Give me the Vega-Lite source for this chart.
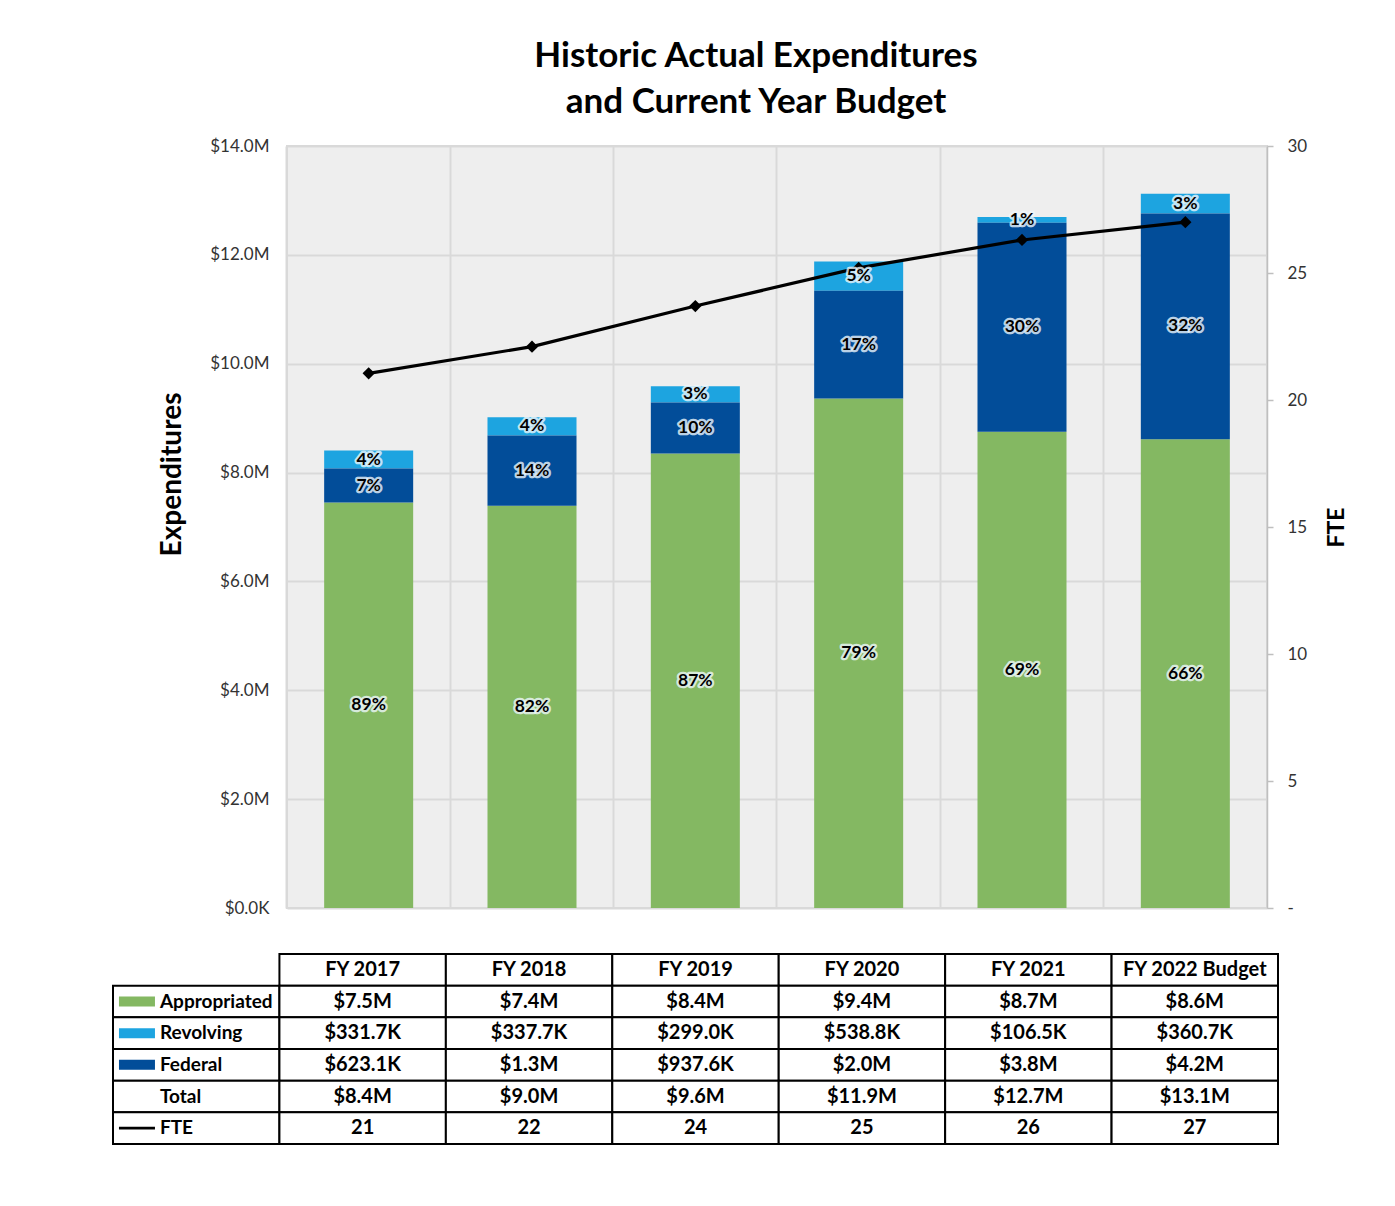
{
  "$schema": "https://vega.github.io/schema/vega-lite/v6.json",
  "width": 980,
  "height": 762,
  "autosize": {"type": "none"},
  "padding": {"left": 287, "top": 146, "right": 128, "bottom": 298},
  "background": "white",
  "config": {
    "font": "Lato",
    "view": {"fill": "#eeeeee", "stroke": "#d9d9d9", "strokeWidth": 2},
    "axis": {"labelFont": "Lato", "titleFont": "Lato"}
  },
  "title": {
    "text": ["Historic Actual Expenditures", "and Current Year Budget"],
    "font": "Lato",
    "fontSize": 35,
    "fontWeight": "bold",
    "color": "black",
    "lineHeight": 46,
    "anchor": "middle",
    "dx": -21,
    "offset": 17
  },
  "datasets": {
    "spend": [
      {"year": "FY 2017", "series": "Appropriated", "amount": 7450000, "pct": "89%"},
      {"year": "FY 2017", "series": "Revolving", "amount": 331700, "pct": "4%"},
      {"year": "FY 2017", "series": "Federal", "amount": 623100, "pct": "7%"},
      {"year": "FY 2018", "series": "Appropriated", "amount": 7390000, "pct": "82%"},
      {"year": "FY 2018", "series": "Revolving", "amount": 337700, "pct": "4%"},
      {"year": "FY 2018", "series": "Federal", "amount": 1290000, "pct": "14%"},
      {"year": "FY 2019", "series": "Appropriated", "amount": 8350000, "pct": "87%"},
      {"year": "FY 2019", "series": "Revolving", "amount": 299000, "pct": "3%"},
      {"year": "FY 2019", "series": "Federal", "amount": 937600, "pct": "10%"},
      {"year": "FY 2020", "series": "Appropriated", "amount": 9360000, "pct": "79%"},
      {"year": "FY 2020", "series": "Revolving", "amount": 538800, "pct": "5%"},
      {"year": "FY 2020", "series": "Federal", "amount": 1980000, "pct": "17%"},
      {"year": "FY 2021", "series": "Appropriated", "amount": 8750000, "pct": "69%"},
      {"year": "FY 2021", "series": "Revolving", "amount": 106500, "pct": "1%"},
      {"year": "FY 2021", "series": "Federal", "amount": 3840000, "pct": "30%"},
      {"year": "FY 2022 Budget", "series": "Appropriated", "amount": 8610000, "pct": "66%"},
      {"year": "FY 2022 Budget", "series": "Revolving", "amount": 360700, "pct": "3%"},
      {"year": "FY 2022 Budget", "series": "Federal", "amount": 4150000, "pct": "32%"}
    ],
    "fte": [
      {"year": "FY 2017", "fte": 21.05},
      {"year": "FY 2018", "fte": 22.1},
      {"year": "FY 2019", "fte": 23.7},
      {"year": "FY 2020", "fte": 25.2},
      {"year": "FY 2021", "fte": 26.3},
      {"year": "FY 2022 Budget", "fte": 27.0}
    ],
    "table": [
      {"col": "FY 2017", "row": "hdr", "text": "FY 2017"},
      {"col": "FY 2018", "row": "hdr", "text": "FY 2018"},
      {"col": "FY 2019", "row": "hdr", "text": "FY 2019"},
      {"col": "FY 2020", "row": "hdr", "text": "FY 2020"},
      {"col": "FY 2021", "row": "hdr", "text": "FY 2021"},
      {"col": "FY 2022 Budget", "row": "hdr", "text": "FY 2022 Budget"},
      {"col": "label", "row": "Appropriated", "text": "Appropriated"},
      {"col": "FY 2017", "row": "Appropriated", "text": "$7.5M"},
      {"col": "FY 2018", "row": "Appropriated", "text": "$7.4M"},
      {"col": "FY 2019", "row": "Appropriated", "text": "$8.4M"},
      {"col": "FY 2020", "row": "Appropriated", "text": "$9.4M"},
      {"col": "FY 2021", "row": "Appropriated", "text": "$8.7M"},
      {"col": "FY 2022 Budget", "row": "Appropriated", "text": "$8.6M"},
      {"col": "label", "row": "Revolving", "text": "Revolving"},
      {"col": "FY 2017", "row": "Revolving", "text": "$331.7K"},
      {"col": "FY 2018", "row": "Revolving", "text": "$337.7K"},
      {"col": "FY 2019", "row": "Revolving", "text": "$299.0K"},
      {"col": "FY 2020", "row": "Revolving", "text": "$538.8K"},
      {"col": "FY 2021", "row": "Revolving", "text": "$106.5K"},
      {"col": "FY 2022 Budget", "row": "Revolving", "text": "$360.7K"},
      {"col": "label", "row": "Federal", "text": "Federal"},
      {"col": "FY 2017", "row": "Federal", "text": "$623.1K"},
      {"col": "FY 2018", "row": "Federal", "text": "$1.3M"},
      {"col": "FY 2019", "row": "Federal", "text": "$937.6K"},
      {"col": "FY 2020", "row": "Federal", "text": "$2.0M"},
      {"col": "FY 2021", "row": "Federal", "text": "$3.8M"},
      {"col": "FY 2022 Budget", "row": "Federal", "text": "$4.2M"},
      {"col": "label", "row": "Total", "text": "Total"},
      {"col": "FY 2017", "row": "Total", "text": "$8.4M"},
      {"col": "FY 2018", "row": "Total", "text": "$9.0M"},
      {"col": "FY 2019", "row": "Total", "text": "$9.6M"},
      {"col": "FY 2020", "row": "Total", "text": "$11.9M"},
      {"col": "FY 2021", "row": "Total", "text": "$12.7M"},
      {"col": "FY 2022 Budget", "row": "Total", "text": "$13.1M"},
      {"col": "label", "row": "FTE", "text": "FTE"},
      {"col": "FY 2017", "row": "FTE", "text": "21"},
      {"col": "FY 2018", "row": "FTE", "text": "22"},
      {"col": "FY 2019", "row": "FTE", "text": "24"},
      {"col": "FY 2020", "row": "FTE", "text": "25"},
      {"col": "FY 2021", "row": "FTE", "text": "26"},
      {"col": "FY 2022 Budget", "row": "FTE", "text": "27"}
    ]
  },
  "layer": [
    {
      "data": {"name": "spend"},
      "layer": [
        {
          "mark": {"type": "bar"},
          "encoding": {
            "x": {
              "field": "year", "type": "nominal",
              "scale": {"domain": ["FY 2017", "FY 2018", "FY 2019", "FY 2020", "FY 2021", "FY 2022 Budget"], "paddingInner": 0.455, "paddingOuter": 0.2275},
              "axis": {"grid": true, "bandPosition": -0.4176, "labels": false, "ticks": false, "domain": false, "title": null, "gridColor": "#d9d9d9", "gridWidth": 2}
            },
            "y": {
              "field": "amount", "type": "quantitative", "stack": "zero",
              "scale": {"domain": [0, 14000000], "nice": false, "zero": true},
              "axis": {
                "values": [0, 2000000, 4000000, 6000000, 8000000, 10000000, 12000000, 14000000],
                "labelExpr": "datum.value == 0 ? '$0.0K' : '$' + format(datum.value / 1000000, '.1f') + 'M'",
                "grid": true, "gridColor": "#d9d9d9", "gridWidth": 2,
                "domain": false, "ticks": false,
                "labelPadding": 18, "labelFontSize": 17, "labelColor": "#333333",
                "title": "Expenditures", "titleFontSize": 28, "titleFontWeight": "bold", "titleColor": "black",
                "titleX": -115, "titleY": 328, "titleBaseline": "middle", "titleAngle": -90
              }
            },
            "color": {
              "field": "series", "type": "nominal",
              "scale": {"domain": ["Appropriated", "Revolving", "Federal", "FTE"], "range": ["#84B862", "#1DA4E0", "#024D99", "#000000"]},
              "legend": null
            },
            "order": {"field": "series", "type": "nominal", "sort": "ascending"}
          }
        }
      ]
    },
    {
      "data": {"name": "fte"},
      "layer": [
        {
          "mark": {"type": "line", "color": "black", "strokeWidth": 3.2},
          "encoding": {
            "x": {
              "field": "year", "type": "nominal",
              "scale": {"domain": ["FY 2017", "FY 2018", "FY 2019", "FY 2020", "FY 2021", "FY 2022 Budget"], "paddingInner": 0.455, "paddingOuter": 0.2275},
              "axis": null
            },
            "y": {
              "field": "fte", "type": "quantitative",
              "scale": {"domain": [0, 30], "nice": false, "zero": true},
              "axis": {
                "orient": "right",
                "values": [0, 5, 10, 15, 20, 25, 30],
                "labelExpr": "datum.value == 0 ? '-' : datum.label",
                "grid": false, "domain": true, "domainColor": "#bfbfbf", "domainWidth": 1.5,
                "ticks": true, "tickColor": "#bfbfbf", "tickSize": 6, "tickWidth": 1.5,
                "labelPadding": 14, "labelFontSize": 17, "labelColor": "#333333",
                "title": "FTE", "titleFontSize": 23, "titleFontWeight": "bold", "titleColor": "black",
                "titleAngle": -90, "titleX": 69, "titleBaseline": "middle"
              }
            }
          }
        },
        {
          "mark": {"type": "point", "shape": "diamond", "filled": true, "color": "black", "size": 150, "opacity": 1},
          "encoding": {
            "x": {"field": "year", "type": "nominal"},
            "y": {"field": "fte", "type": "quantitative"}
          }
        }
      ]
    },
    {
      "data": {"name": "spend"},
      "layer": [
        {
          "mark": {"type": "text", "font": "Lato", "fontSize": 17.5, "fontWeight": "bold", "stroke": "#eef7fc", "strokeWidth": 4.5, "strokeJoin": "round", "strokeOpacity": 0.8, "fill": "#eef7fc", "baseline": "middle"},
          "encoding": {
            "x": {
              "field": "year", "type": "nominal",
              "scale": {"domain": ["FY 2017", "FY 2018", "FY 2019", "FY 2020", "FY 2021", "FY 2022 Budget"], "paddingInner": 0.455, "paddingOuter": 0.2275},
              "axis": null
            },
            "y": {
              "field": "amount", "type": "quantitative", "stack": "zero", "bandPosition": 0.5,
              "scale": {"domain": [0, 14000000], "nice": false, "zero": true},
              "axis": null
            },
            "detail": {"field": "series", "type": "nominal"},
            "order": {"field": "series", "type": "nominal", "sort": "ascending"},
            "text": {"field": "pct", "type": "nominal"}
          }
        },
        {
          "mark": {"type": "text", "font": "Lato", "fontSize": 17.5, "fontWeight": "bold", "fill": "black", "baseline": "middle"},
          "encoding": {
            "x": {"field": "year", "type": "nominal"},
            "y": {"field": "amount", "type": "quantitative", "stack": "zero", "bandPosition": 0.5},
            "detail": {"field": "series", "type": "nominal"},
            "order": {"field": "series", "type": "nominal", "sort": "ascending"},
            "text": {"field": "pct", "type": "nominal"}
          }
        }
      ]
    },
    {
      "data": {"name": "table"},
      "layer": [
        {
          "mark": {"type": "rect", "fill": "white", "stroke": "black", "strokeWidth": 2},
          "encoding": {
            "x": {
              "field": "col", "type": "nominal",
              "scale": {"domain": ["label", "FY 2017", "FY 2018", "FY 2019", "FY 2020", "FY 2021", "FY 2022 Budget"], "range": [-174, 991], "paddingInner": 0, "paddingOuter": 0},
              "axis": null
            },
            "y": {
              "field": "row", "type": "nominal",
              "scale": {"domain": ["hdr", "Appropriated", "Revolving", "Federal", "Total", "FTE"], "range": [808, 998], "paddingInner": 0, "paddingOuter": 0},
              "axis": null
            }
          }
        },
        {
          "transform": [{"filter": "datum.col != 'label'"}],
          "mark": {"type": "text", "font": "Lato", "fontSize": 20, "fontWeight": "bold", "color": "black", "align": "center", "baseline": "middle"},
          "encoding": {
            "x": {"field": "col", "type": "nominal"},
            "y": {"field": "row", "type": "nominal"},
            "text": {"field": "text", "type": "nominal"}
          }
        },
        {
          "transform": [{"filter": "datum.col == 'label'"}],
          "mark": {"type": "text", "font": "Lato", "fontSize": 19, "fontWeight": "bold", "color": "black", "align": "left", "baseline": "middle"},
          "encoding": {
            "x": {"field": "col", "type": "nominal", "bandPosition": 0.282},
            "y": {"field": "row", "type": "nominal"},
            "text": {"field": "text", "type": "nominal"}
          }
        },
        {
          "transform": [{"filter": "datum.col == 'label' && datum.row != 'Total' && datum.row != 'FTE'"}],
          "mark": {"type": "point", "shape": "M-1,-0.28H1V0.28H-1Z", "filled": true, "size": 1296, "opacity": 1},
          "encoding": {
            "x": {"field": "col", "type": "nominal", "bandPosition": 0.144},
            "y": {"field": "row", "type": "nominal"},
            "color": {"field": "row", "type": "nominal", "scale": {"domain": ["Appropriated", "Revolving", "Federal", "FTE"], "range": ["#84B862", "#1DA4E0", "#024D99", "#000000"]}, "legend": null}
          }
        },
        {
          "transform": [{"filter": "datum.col == 'label' && datum.row == 'FTE'"}],
          "mark": {"type": "point", "shape": "M-1,-0.08H1V0.08H-1Z", "filled": true, "size": 1296, "opacity": 1, "color": "black"},
          "encoding": {
            "x": {"field": "col", "type": "nominal", "bandPosition": 0.144},
            "y": {"field": "row", "type": "nominal"}
          }
        }
      ]
    }
  ],
  "resolve": {
    "scale": {"x": "independent", "y": "independent"},
    "axis": {"x": "independent", "y": "independent"}
  }
}
